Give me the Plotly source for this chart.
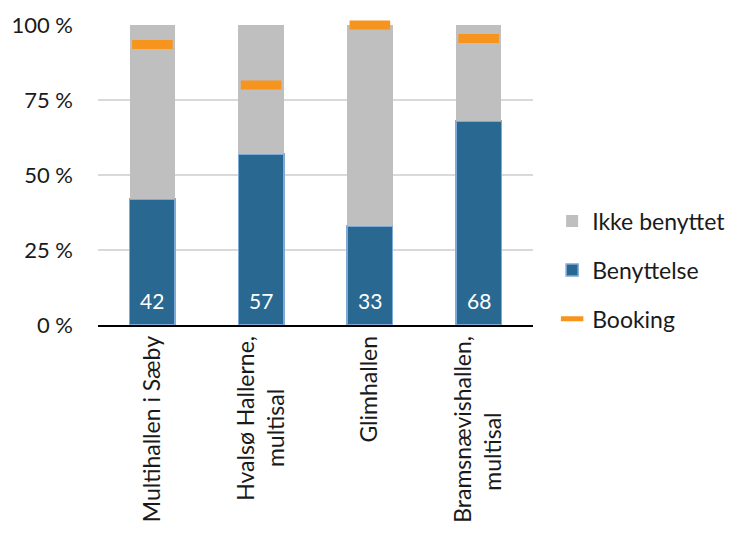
import plotly.graph_objects as go

categories = ["Multihallen i Sæby", "Hvalsø Hallerne,<br>multisal", "Glimhallen", "Bramsnævishallen,<br>multisal"]
benyttelse = [42, 57, 33, 68]
ikke_benyttet = [100 - v for v in benyttelse]
booking = [93.5, 80, 100, 95.5]
y_ticks = [0, 25, 50, 75, 100]
y_tick_labels = ["0 %", "25 %", "50 %", "75 %", "100 %"]

FONT = "Lato"
BLUE = "#296991"
GRAY = "#bfbfbf"
ORANGE = "#f7941d"

# centre the second line of two-line labels (rotated labels are end-aligned)
pad = {"Hvalsø Hallerne,<br>multisal": 9, "Bramsnævishallen,<br>multisal": 13}
x_tick_text = [c + "\u00a0" * pad.get(c, 0) for c in categories]

fig = go.Figure()
fig.add_trace(go.Bar(
    x=categories, y=benyttelse, name="Benyttelse",
    marker=dict(color=BLUE, line=dict(color="#7fa9d6", width=1.5)),
    width=0.42, legendrank=2, legendgroup="b",
))
fig.add_trace(go.Bar(
    x=categories, y=ikke_benyttet, name="Ikke benyttet",
    marker=dict(color=GRAY, line=dict(width=0)),
    width=0.42, legendrank=1, legendgroup="a",
))
fig.add_trace(go.Scatter(
    x=categories, y=booking, name="Booking", mode="markers",
    marker=dict(symbol="line-ew", size=29, line=dict(color=ORANGE, width=9)),
    cliponaxis=False, legendrank=3, legendgroup="c",
))

for cat, v in zip(categories, benyttelse):
    fig.add_annotation(x=cat, y=0, yanchor="bottom", yshift=10, text=str(v),
                       showarrow=False, font=dict(color="white", size=21, family=FONT))

fig.update_layout(
    width=735, height=549,
    margin=dict(l=90, r=210, t=17, b=232, autoexpand=False),
    barmode="stack",
    plot_bgcolor="white", paper_bgcolor="white",
    font=dict(family=FONT, size=23, color="#1a1a1a"),
    showlegend=True,
    legend=dict(x=1.044, y=0.183, xanchor="left", yanchor="middle",
                tracegroupgap=16, font=dict(size=23), itemwidth=30),
    xaxis=dict(tickangle=-90, showgrid=False, showline=True, automargin=False,
               tickmode="array", tickvals=categories, ticktext=x_tick_text,
               linecolor="black", linewidth=1.5, tickfont=dict(size=23)),
    yaxis=dict(range=[0, 100], tickvals=y_ticks, ticktext=y_tick_labels,
               automargin=False,
               showgrid=True, gridcolor="#d9d9d9", gridwidth=1.5,
               zeroline=False, showline=False, ticklabelstandoff=24,
               tickfont=dict(size=22)),
)

fig.write_html("out.html")
